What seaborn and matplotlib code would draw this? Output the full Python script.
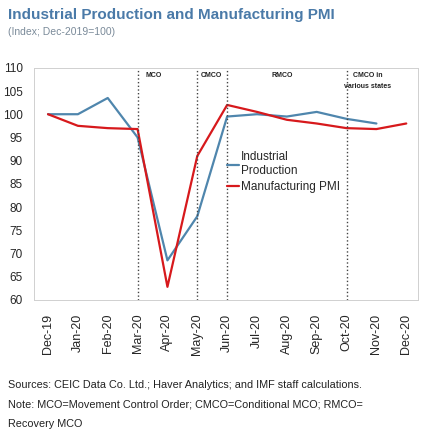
import numpy as np
import pandas as pd
import seaborn as sns
import matplotlib.pyplot as plt

months = ['Dec-19', 'Jan-20', 'Feb-20', 'Mar-20', 'Apr-20', 'May-20', 'Jun-20',
          'Jul-20', 'Aug-20', 'Sep-20', 'Oct-20', 'Nov-20', 'Dec-20']
industrial = [100, 100, 103.5, 95, 68.5, 78, 99.5, 100, 99.5, 100.5, 99, 98, np.nan]
pmi = [100, 97.5, 97, 96.8, 62.8, 91, 102, 100.5, 98.8, 98, 97, 96.8, 98]

phase_months = ['Mar-20', 'May-20', 'Jun-20', 'Oct-20']
phase_labels = ['MCO', 'CMCO', 'RMCO', 'CMCO in\nvarious states']
phase_label_pos = [3.55, 5.47, 7.85, 10.7]

sns.set_style('white')
plt.rcParams['font.family'] = ['Liberation Sans', 'DejaVu Sans']

df = pd.DataFrame({'month': months, 'Industrial\nProduction': industrial,
                   'Manufacturing PMI': pmi})
df['pos'] = range(len(months))
long = df.melt(id_vars=['month', 'pos'], var_name='series', value_name='value')

fig = plt.figure(figsize=(4.25, 4.32), dpi=100)
ax = fig.add_axes([0.08, 0.306, 0.904, 0.537])

sns.lineplot(data=long, x='pos', y='value', hue='series',
             palette={'Industrial\nProduction': '#4f86ad', 'Manufacturing PMI': '#d7191c'},
             linewidth=1.6, ax=ax)

for m in phase_months:
    ax.axvline(months.index(m), color='#444444', linestyle=':', linewidth=1.0)
for lab, p in zip(phase_labels, phase_label_pos):
    ax.text(p, 109.2, lab, fontsize=5, ha='center', va='top', fontweight='bold',
            linespacing=1.8, color='#222222')

ax.set_xlim(-0.47, 12.4)
ax.set_ylim(60, 110)
ax.set_yticks(np.arange(60, 111, 5))
ax.set_xticks(range(len(months)))
ax.set_xticklabels(months, rotation=90, fontsize=9)
ax.tick_params(axis='y', labelsize=8.5, length=0, pad=8)
ax.tick_params(axis='x', length=0, pad=10)
ax.set_xlabel('')
ax.set_ylabel('')
for s in ax.spines.values():
    s.set_color('#d0d0d0')
    s.set_linewidth(0.7)

leg = ax.legend(loc='upper left', bbox_to_anchor=(0.49, 0.66), frameon=False,
                fontsize=8.5, handlelength=1.0, handletextpad=0.2,
                borderaxespad=0, labelspacing=0.3)
for line in leg.get_lines():
    line.set_linewidth(1.6)

fig.text(0.02, 0.965, 'Industrial Production and Manufacturing PMI', fontsize=11,
         fontweight='bold', color='#4a7aa8', va='center')
fig.text(0.02, 0.925, '(Index; Dec-2019=100)', fontsize=7.5, color='#7a8a99', va='center')

fig.text(0.02, 0.108, 'Sources: CEIC Data Co. Ltd.; Haver Analytics; and IMF staff calculations.',
         fontsize=7.8, color='#222222', va='center')
fig.text(0.02, 0.063, 'Note: MCO=Movement Control Order; CMCO=Conditional MCO; RMCO=',
         fontsize=7.8, color='#222222', va='center')
fig.text(0.02, 0.018, 'Recovery MCO', fontsize=7.8, color='#222222', va='center')

fig.savefig('out.png', dpi=100)
